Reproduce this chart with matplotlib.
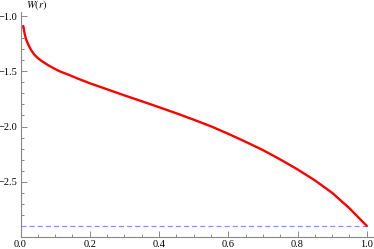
import matplotlib
matplotlib.use("Agg")
import matplotlib.pyplot as plt
from matplotlib.ticker import MultipleLocator

r = [0.008, 0.012, 0.016, 0.022, 0.03, 0.04, 0.05, 0.06, 0.08, 0.1, 0.113, 0.14, 0.166,
     0.2, 0.25, 0.3, 0.35, 0.4, 0.45, 0.5, 0.55, 0.6, 0.65, 0.7, 0.75, 0.8, 0.85, 0.9,
     0.95, 1.0]
w = [-1.09, -1.16, -1.21, -1.255, -1.305, -1.35, -1.38, -1.405, -1.445, -1.48, -1.5,
     -1.533, -1.567, -1.608, -1.663, -1.718, -1.771, -1.825, -1.88, -1.938, -1.998,
     -2.066, -2.138, -2.213, -2.298, -2.388, -2.487, -2.6, -2.74, -2.9]
w_inf = -2.9

plt.rcParams['font.family'] = ['Liberation Serif', 'DejaVu Serif']

fig = plt.figure(figsize=(3.74, 2.49), dpi=100)
ax = fig.add_axes([20.5 / 374, 12 / 249, (373 - 20.5) / 374, (236.5 - 12) / 249])

ax.plot([0, 1.0], [w_inf, w_inf], color='#8c8cff', lw=0.9, dashes=(4, 2.5))
ax.plot(r, w, color='#ff0000', lw=1.7, solid_capstyle='round', solid_joinstyle='round')

ax.set_xlim(0, 1.018)
ax.set_ylim(-3.0, -0.968)

for s in ['top', 'right']:
    ax.spines[s].set_visible(False)
for s in ['left', 'bottom']:
    ax.spines[s].set_color('#888888')
    ax.spines[s].set_linewidth(0.8)

ax.xaxis.set_major_locator(MultipleLocator(0.2))
ax.xaxis.set_minor_locator(MultipleLocator(0.05))
ax.yaxis.set_major_locator(MultipleLocator(0.5))
ax.yaxis.set_minor_locator(MultipleLocator(0.1))
ax.xaxis.set_major_formatter(plt.FuncFormatter(lambda v, p: f'{v:.1f}'))
ax.yaxis.set_major_formatter(plt.FuncFormatter(
    lambda v, p: '' if v < -2.95 else f'{v:.1f}'.replace('-', '\u2212')))

ax.tick_params(which='both', direction='in', colors='#888888', labelcolor='black',
               labelsize=7.5, width=0.7, pad=2)
ax.tick_params(which='major', length=4)
ax.tick_params(which='minor', length=2.2)

ax.text(0.015, 1.0, r'$W(r)$', transform=ax.transAxes, fontsize=7.5,
        ha='left', va='bottom', math_fontfamily='stix')

fig.savefig('out.png', dpi=100)
